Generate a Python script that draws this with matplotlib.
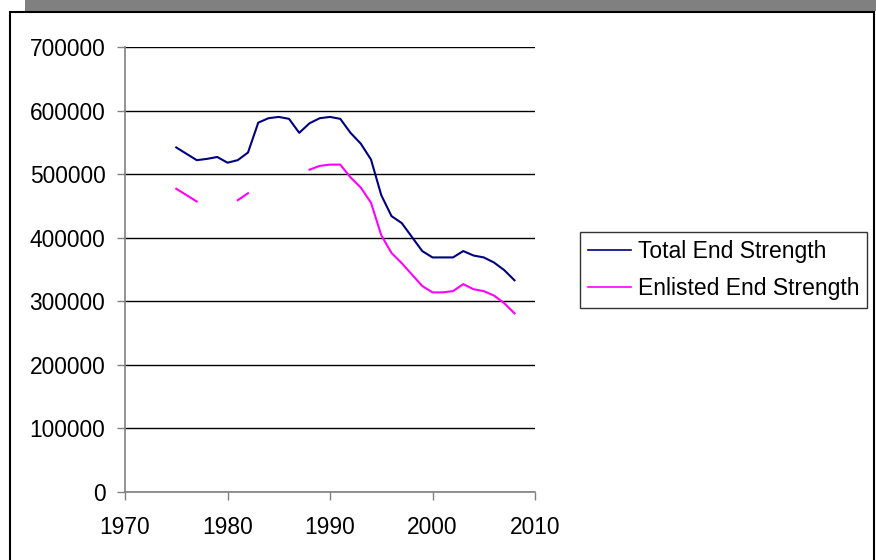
import numpy as np
import matplotlib
matplotlib.use('Agg')
import matplotlib.pyplot as plt
from matplotlib.patches import Rectangle

plt.rcParams['font.family'] = ['Liberation Sans', 'DejaVu Sans']

# end strength by year (NaN = no data)
years = list(range(1975, 2009))
total_strength = [542000, 532000, 522000, 524000, 527000, 518000, 522000, 534000,
                  581000, 588000, 590000, 587000, 565000, 580000, 588000, 590000,
                  587000, 565000, 548000, 523000, 467000, 434000, 423000, 401000,
                  379000, 369000, 369000, 369000, 379000, 372000, 369000, 361000,
                  349000, 333000]
enlisted_strength = [477000, 467000, 457000, np.nan, np.nan, np.nan, 459000, 470000,
                     np.nan, np.nan, np.nan, np.nan, np.nan, 507000, 513000, 515000,
                     515000, 495000, 479000, 455000, 404000, 376000, 360000, 342000,
                     324000, 314000, 314000, 316000, 327000, 319000, 316000, 309000,
                     297000, 281000]
x_ticks = [1970, 1980, 1990, 2000, 2010]
y_ticks = [0, 100000, 200000, 300000, 400000, 500000, 600000, 700000]

W, H = 876, 560
fig = plt.figure(figsize=(W / 100, H / 100), dpi=100)

# gray band on top and the chart frame
fig.patches.append(Rectangle((25 / W, 1 - 11 / H), 1, 11 / H, transform=fig.transFigure,
                             facecolor='#808080', edgecolor='none', zorder=-2))
fig.patches.append(Rectangle((10 / W, -0.05), 864 / W, 1.05 - 11.5 / H, transform=fig.transFigure,
                             facecolor='white', edgecolor='black', linewidth=1.5, zorder=-1))

ax = fig.add_axes([125 / W, 1 - 492 / H, 410 / W, 445 / H])
ax.patch.set_alpha(0)
ax.plot(years, total_strength, color='#000080', lw=1.5, label='Total End Strength')
ax.plot(years, enlisted_strength, color='#FF00FF', lw=1.5, label='Enlisted End Strength')

ax.set_xlim(1970, 2010)
ax.set_ylim(0, 700000)
ax.set_xticks(x_ticks)
ax.set_yticks(y_ticks)
ax.set_yticklabels([str(v) for v in y_ticks])
ax.yaxis.grid(True, color='black', lw=1)
ax.set_axisbelow(True)
for s in ['top', 'right']:
    ax.spines[s].set_visible(False)
for s in ['left', 'bottom']:
    ax.spines[s].set_color('#808080')
    ax.spines[s].set_linewidth(1.2)
ax.tick_params(axis='both', direction='out', length=5.5, color='#808080', width=1,
               labelsize=16.4)
ax.tick_params(axis='y', pad=8.6)
ax.tick_params(axis='x', pad=12)

leg = ax.legend(loc='upper left', bbox_to_anchor=(580 / W, 1 - 232 / H),
                bbox_transform=fig.transFigure, fontsize=16.5, frameon=True,
                fancybox=False, borderpad=0.33, handlelength=1.9, handletextpad=0.3,
                labelspacing=0.65, borderaxespad=0)
leg.get_frame().set_edgecolor('black')
leg.get_frame().set_linewidth(1)
for line in leg.get_lines():
    line.set_linewidth(1.2)

fig.savefig('out.png', dpi=100)
